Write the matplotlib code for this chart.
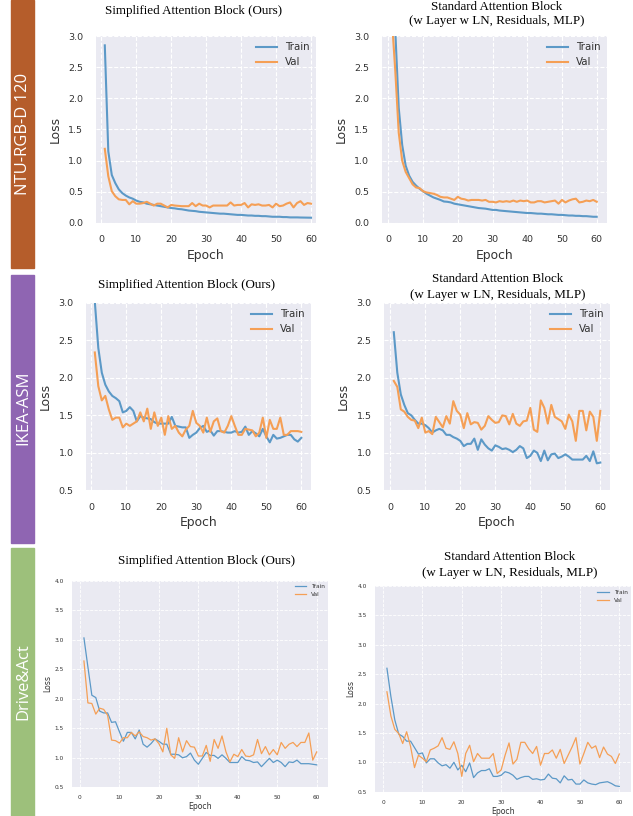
import matplotlib
matplotlib.use("Agg")
import matplotlib.pyplot as plt
from matplotlib.patches import Rectangle

W, H = 633, 816
DPI = 100

# ==========================================
# DATA
# ==========================================
epochs = list(range(1, 61))

ntu_simple_train = [2.85, 1.15, 0.77, 0.64, 0.54, 0.48, 0.44, 0.41, 0.39, 0.36,
                    0.34, 0.33, 0.31, 0.30, 0.29, 0.28, 0.27, 0.26, 0.25, 0.24,
                    0.235, 0.225, 0.22, 0.21, 0.20, 0.195, 0.19, 0.18, 0.175, 0.17,
                    0.165, 0.16, 0.155, 0.15, 0.15, 0.145, 0.14, 0.135, 0.13, 0.13,
                    0.125, 0.12, 0.12, 0.115, 0.115, 0.11, 0.11, 0.105, 0.10, 0.10,
                    0.10, 0.095, 0.095, 0.09, 0.09, 0.09, 0.088, 0.087, 0.086, 0.085]
ntu_simple_val = [1.19, 0.75, 0.51, 0.43, 0.38, 0.37, 0.37, 0.30, 0.35, 0.31,
                  0.31, 0.32, 0.34, 0.31, 0.28, 0.31, 0.31, 0.28, 0.25, 0.29,
                  0.28, 0.275, 0.27, 0.27, 0.27, 0.32, 0.27, 0.31, 0.28, 0.28,
                  0.25, 0.28, 0.28, 0.28, 0.28, 0.28, 0.33, 0.28, 0.29, 0.29,
                  0.32, 0.25, 0.30, 0.29, 0.30, 0.28, 0.28, 0.29, 0.25, 0.31,
                  0.27, 0.28, 0.31, 0.33, 0.25, 0.32, 0.35, 0.29, 0.32, 0.31]
ntu_std_train = [6.0, 3.1, 1.85, 1.25, 0.92, 0.76, 0.66, 0.60, 0.55, 0.51,
                 0.47, 0.44, 0.41, 0.39, 0.37, 0.345, 0.34, 0.33, 0.31, 0.30,
                 0.29, 0.28, 0.27, 0.26, 0.25, 0.24, 0.235, 0.23, 0.22, 0.21,
                 0.21, 0.20, 0.195, 0.19, 0.185, 0.18, 0.175, 0.17, 0.165, 0.16,
                 0.16, 0.155, 0.15, 0.15, 0.145, 0.14, 0.14, 0.135, 0.13, 0.13,
                 0.125, 0.12, 0.12, 0.115, 0.115, 0.11, 0.11, 0.105, 0.10, 0.10]
ntu_std_val = [3.3, 2.45, 1.45, 1.0, 0.82, 0.72, 0.62, 0.57, 0.56, 0.51,
               0.49, 0.48, 0.47, 0.45, 0.42, 0.41, 0.41, 0.39, 0.37, 0.42,
               0.39, 0.38, 0.36, 0.37, 0.37, 0.37, 0.36, 0.37, 0.34, 0.34,
               0.33, 0.35, 0.34, 0.35, 0.34, 0.36, 0.34, 0.36, 0.35, 0.36,
               0.33, 0.33, 0.35, 0.35, 0.33, 0.34, 0.35, 0.36, 0.31, 0.37,
               0.33, 0.36, 0.38, 0.39, 0.33, 0.34, 0.36, 0.35, 0.37, 0.34]

ikea_simple_train = [3.02, 2.40, 2.07, 1.91, 1.82, 1.76, 1.73, 1.69, 1.54, 1.56,
                     1.61, 1.56, 1.42, 1.49, 1.47, 1.46, 1.45, 1.41, 1.39, 1.39,
                     1.39, 1.39, 1.48, 1.36, 1.35, 1.34, 1.34, 1.20, 1.24, 1.27,
                     1.33, 1.36, 1.28, 1.30, 1.23, 1.29, 1.29, 1.28, 1.27, 1.27,
                     1.29, 1.27, 1.28, 1.35, 1.24, 1.29, 1.26, 1.22, 1.32, 1.22,
                     1.14, 1.24, 1.19, 1.20, 1.22, 1.24, 1.24, 1.18, 1.15, 1.20]
ikea_simple_val = [2.34, 1.89, 1.70, 1.76, 1.58, 1.44, 1.47, 1.47, 1.34, 1.39,
                   1.36, 1.39, 1.42, 1.54, 1.42, 1.59, 1.32, 1.54, 1.36, 1.47,
                   1.24, 1.49, 1.32, 1.36, 1.27, 1.22, 1.31, 1.36, 1.56, 1.40,
                   1.36, 1.27, 1.47, 1.28, 1.42, 1.46, 1.29, 1.27, 1.36, 1.49,
                   1.36, 1.24, 1.24, 1.32, 1.31, 1.30, 1.22, 1.27, 1.47, 1.20,
                   1.44, 1.32, 1.32, 1.47, 1.24, 1.24, 1.29, 1.29, 1.29, 1.28]
ikea_std_train = [2.61, 2.07, 1.78, 1.64, 1.53, 1.50, 1.44, 1.39, 1.39, 1.37,
                  1.33, 1.27, 1.30, 1.32, 1.30, 1.24, 1.24, 1.21, 1.19, 1.16,
                  1.09, 1.12, 1.12, 1.19, 1.04, 1.18, 1.11, 1.06, 1.03, 1.10,
                  1.08, 1.05, 1.06, 1.04, 1.01, 1.04, 1.09, 1.06, 0.93, 0.96,
                  1.03, 1.00, 0.89, 1.03, 0.90, 0.98, 0.99, 0.93, 0.95, 0.98,
                  0.95, 0.91, 0.91, 0.91, 0.91, 0.96, 0.89, 1.02, 0.86, 0.87]
ikea_std_val = [1.96, 1.88, 1.58, 1.55, 1.48, 1.44, 1.43, 1.33, 1.47, 1.27,
                1.29, 1.25, 1.48, 1.41, 1.34, 1.49, 1.39, 1.69, 1.56, 1.51,
                1.33, 1.53, 1.38, 1.41, 1.40, 1.31, 1.36, 1.49, 1.44, 1.40,
                1.41, 1.50, 1.49, 1.38, 1.52, 1.39, 1.36, 1.42, 1.43, 1.60,
                1.31, 1.28, 1.70, 1.60, 1.39, 1.64, 1.48, 1.45, 1.42, 1.32,
                1.51, 1.42, 1.16, 1.56, 1.56, 1.30, 1.55, 1.48, 1.16, 1.56]

drive_simple_train = [3.03, 2.54, 2.06, 2.02, 1.79, 1.76, 1.76, 1.60, 1.61, 1.44,
                      1.28, 1.43, 1.43, 1.32, 1.47, 1.23, 1.18, 1.24, 1.32, 1.28,
                      1.23, 1.23, 1.06, 1.06, 1.05, 1.00, 1.02, 1.08, 0.96, 0.89,
                      0.99, 1.09, 1.04, 1.04, 0.99, 1.05, 0.99, 0.92, 0.92, 0.92,
                      1.02, 0.96, 0.95, 0.92, 0.93, 0.85, 0.92, 0.99, 0.92, 0.96,
                      0.92, 0.85, 0.93, 0.92, 0.96, 0.90, 0.90, 0.90, 0.89, 0.88]
drive_simple_val = [2.64, 1.93, 1.92, 1.74, 1.84, 1.82, 1.72, 1.30, 1.29, 1.25,
                    1.34, 1.34, 1.43, 1.37, 1.44, 1.36, 1.34, 1.30, 1.32, 1.24,
                    1.10, 1.50, 1.05, 0.99, 1.34, 1.10, 1.29, 1.19, 1.18, 1.03,
                    1.03, 1.21, 0.94, 1.31, 1.16, 1.37, 1.10, 0.93, 1.06, 1.02,
                    1.14, 1.03, 1.02, 1.05, 1.31, 1.07, 1.19, 1.05, 1.14, 1.05,
                    1.26, 1.16, 1.23, 1.26, 1.19, 1.26, 1.26, 1.42, 0.96, 1.10]
drive_std_train = [2.60, 2.12, 1.72, 1.48, 1.44, 1.36, 1.36, 1.25, 1.14, 1.16,
                   0.99, 1.06, 1.06, 0.99, 0.94, 0.96, 0.90, 1.00, 0.87, 0.95,
                   0.84, 0.99, 0.74, 0.82, 0.86, 0.86, 0.89, 0.76, 0.76, 0.78,
                   0.84, 0.82, 0.78, 0.71, 0.74, 0.76, 0.76, 0.71, 0.72, 0.70,
                   0.71, 0.80, 0.73, 0.72, 0.65, 0.77, 0.70, 0.71, 0.63, 0.63,
                   0.70, 0.65, 0.63, 0.62, 0.65, 0.66, 0.67, 0.64, 0.60, 0.59]
drive_std_val = [2.20, 1.79, 1.56, 1.49, 1.32, 1.52, 1.27, 0.91, 1.12, 1.07,
                 1.01, 1.21, 1.24, 1.28, 1.42, 1.24, 1.22, 1.35, 1.15, 0.76,
                 1.15, 1.29, 1.01, 1.15, 1.07, 1.07, 1.07, 1.15, 0.81, 0.87,
                 1.12, 1.33, 0.97, 1.05, 1.34, 1.34, 1.23, 1.15, 1.27, 0.95,
                 1.15, 1.15, 1.21, 1.07, 1.22, 0.98, 1.12, 1.26, 1.42, 0.97,
                 1.15, 1.34, 1.24, 1.28, 1.08, 1.26, 1.14, 1.10, 0.98, 1.14]

datasets = ["NTU-RGB-D 120", "IKEA-ASM", "Drive&Act"]
dataset_colors = ["#b55d2b", "#8f65b2", "#9dc07b"]
title_simple = "Simplified Attention Block (Ours)"
title_std_1 = "Standard Attention Block"
title_std_2 = "(w Layer w LN, Residuals, MLP)"

# ==========================================
# STYLE / LAYOUT (pixel coordinates of the 633x816 canvas)
# ==========================================
BG = "#eaeaf2"
C_TRAIN = "#5c99c7"
C_VAL = "#f59f55"
TXT = "#333333"

fig = plt.figure(figsize=(W / DPI, H / DPI), dpi=DPI)
fig.patch.set_facecolor("white")


def fx(px):
    return px / W


def fy(py):
    return 1 - py / H


# side bars with the dataset names
bars = [(0, 268), (275, 543), (548, 816)]
name_y = [134, 408, 682]
for name, col, (t, b), cy in zip(datasets, dataset_colors, bars, name_y):
    fig.patches.append(Rectangle((fx(11), fy(b)), fx(23), (b - t) / H,
                                 transform=fig.transFigure, color=col, zorder=0))
    fig.text(fx(23), fy(cy), name, rotation=90, ha="center", va="center",
             color="white", fontsize=12, family="Open Sans")

# panel: bg box (l, t, r, b), x pixel of epoch 0 and 60, ylim, small flag
panels = [
    dict(box=(95.5, 36, 316, 223), x0=101.3, x60=311, ylim=(0, 3.0), small=False,
         train=ntu_simple_train, val=ntu_simple_val, ylab_x=55),
    dict(box=(381.7, 36, 607, 223), x0=388.3, x60=596.7, ylim=(0, 3.0), small=False,
         train=ntu_std_train, val=ntu_std_val, ylab_x=341.7),
    dict(box=(86, 303, 311, 490.3), x0=91.3, x60=301.3, ylim=(0.5, 3.0), small=False,
         train=ikea_simple_train, val=ikea_simple_val, ylab_x=45),
    dict(box=(384, 303, 610, 490.3), x0=390.3, x60=600.3, ylim=(0.5, 3.0), small=False,
         train=ikea_std_train, val=ikea_std_val, ylab_x=343),
    dict(box=(72, 580.7, 328.3, 787.3), x0=80, x60=316.7, ylim=(0.5, 4.0), small=True,
         train=drive_simple_train, val=drive_simple_val, ylab_x=48),
    dict(box=(375, 586, 631, 791.7), x0=383, x60=619.3, ylim=(0.5, 4.0), small=True,
         train=drive_std_train, val=drive_std_val, ylab_x=351),
]

for p in panels:
    l, t, r, b = p["box"]
    ax = fig.add_axes([fx(l), fy(b), (r - l) / W, (b - t) / H])
    per = (p["x60"] - p["x0"]) / 60
    ax.set_xlim((l - p["x0"]) / per, (r - p["x0"]) / per)
    ax.set_ylim(*p["ylim"])
    ax.set_facecolor(BG)
    for s in ax.spines.values():
        s.set_visible(False)
    small = p["small"]
    lw = 0.9 if small else 1.5
    ax.plot(epochs, p["train"], color=C_TRAIN, lw=lw, label="Train")
    ax.plot(epochs, p["val"], color=C_VAL, lw=lw, label="Val")
    ax.set_xticks(range(0, 61, 10))
    y0, y1 = p["ylim"]
    yt = [y0 + 0.5 * k for k in range(int(round((y1 - y0) / 0.5)) + 1)]
    ax.set_yticks(yt)
    ax.set_yticklabels([f"{v:.1f}" for v in yt])
    tick_fs = 4.2 if small else 6.8
    lab_fs = 5.6 if small else 8.9
    pad = 5.8 if small else 9
    ax.tick_params(length=0, labelsize=tick_fs, labelcolor=TXT, pad=pad)
    ax.grid(True, color="white", ls="--", lw=0.6 if small else 0.8)
    ax.set_axisbelow(True)
    ax.legend(loc="upper right", frameon=False, fontsize=4.2 if small else 7.4,
              handlelength=2.0, handletextpad=0.8, borderaxespad=0.2,
              labelcolor=TXT)
    cx = (l + r) / 2
    if small:
        fig.text(fx(cx), fy(b + 19.5), "Epoch", ha="center", va="center",
                 fontsize=lab_fs, color=TXT)
    else:
        fig.text(fx(cx), fy(b + 32), "Epoch", ha="center", va="center",
                 fontsize=lab_fs, color=TXT)
    fig.text(fx(p["ylab_x"]), fy((t + b) / 2), "Loss", rotation=90,
             ha="center", va="center", fontsize=lab_fs, color=TXT)

# titles (baseline positions in pixels)
serif = "Liberation Serif"
TFS = 9.4
simple_titles = [(193.5, 14), (186.3, 288), (207, 563.6)]
std_titles = [(496.7, 10, 24.3), (497.5, 282, 297.6), (510, 559.6, 576.3)]
for cx, by in simple_titles:
    fig.text(fx(cx), fy(by), title_simple, ha="center", va="baseline",
             fontsize=TFS, family=serif)
for cx, b1, b2 in std_titles:
    fig.text(fx(cx), fy(b1), title_std_1, ha="center", va="baseline",
             fontsize=TFS, family=serif)
    fig.text(fx(cx), fy(b2), title_std_2, ha="center", va="baseline",
             fontsize=TFS, family=serif)

fig.savefig("out.png", dpi=DPI)
